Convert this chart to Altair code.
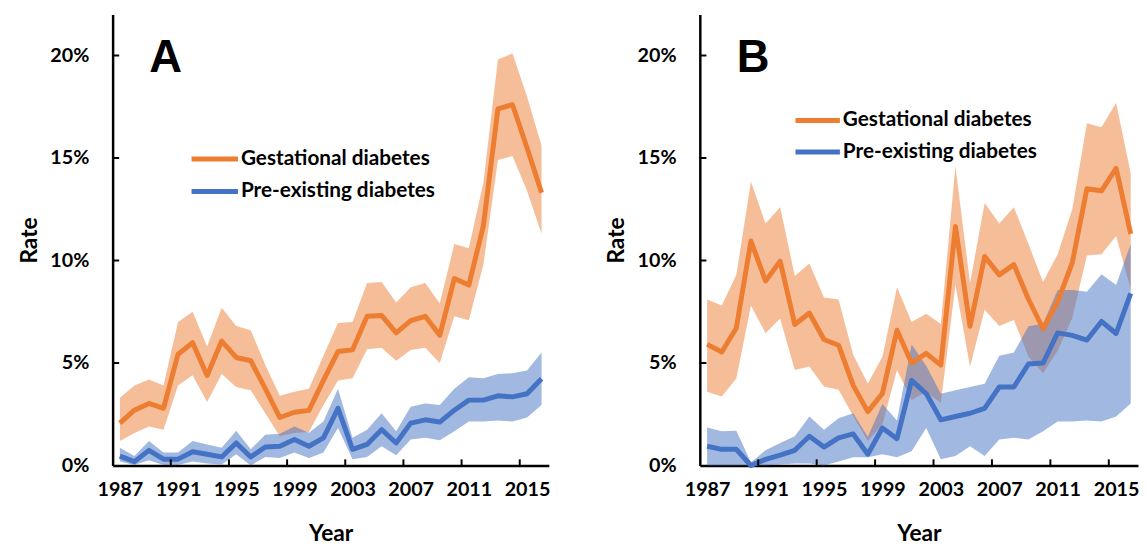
import altair as alt
import pandas as pd

years = list(range(1987, 2017))
series_names = ["Gestational diabetes", "Pre-existing diabetes"]
colors = ["#ED7D31", "#4472C4"]

# Panel A
A_gdm = [2.07, 2.7, 3.03, 2.79, 5.43, 5.99, 4.39, 6.07, 5.27, 5.11, 3.75, 2.34, 2.6, 2.69, 4.15,
         5.56, 5.64, 7.28, 7.32, 6.47, 7.07, 7.28, 6.35, 9.12, 8.8, 11.7, 17.4, 17.6, 15.5, 13.3]
A_gdm_hi = [3.3, 3.9, 4.2, 3.9, 7.0, 7.5, 5.8, 7.7, 6.8, 6.6, 4.9, 3.4, 3.6, 3.75, 5.35,
            6.95, 7.0, 8.9, 8.95, 7.95, 8.7, 8.9, 7.9, 10.8, 10.6, 13.8, 19.8, 20.1, 18.0, 15.6]
A_gdm_lo = [1.19, 1.59, 1.9, 1.75, 3.9, 4.4, 3.1, 4.47, 3.83, 3.67, 2.55, 1.43, 1.59, 1.63, 2.95,
            4.15, 4.26, 5.67, 5.75, 5.11, 5.64, 5.75, 5.0, 7.28, 7.08, 9.8, 14.9, 15.1, 13.4, 11.3]
A_pre = [0.46, 0.19, 0.74, 0.31, 0.31, 0.67, 0.55, 0.42, 1.1, 0.42, 0.9, 0.94, 1.27, 0.94, 1.35,
         2.79, 0.79, 1.03, 1.75, 1.1, 2.07, 2.23, 2.12, 2.7, 3.19, 3.19, 3.4, 3.35, 3.5, 4.23]
A_pre_hi = [0.87, 0.46, 1.19, 0.63, 0.63, 1.19, 1.03, 0.87, 1.7, 0.79, 1.5, 1.55, 1.9, 1.6, 2.15,
            3.75, 1.35, 1.75, 2.55, 1.67, 2.87, 3.03, 2.95, 3.75, 4.31, 4.26, 4.47, 4.5, 4.63, 5.51]
A_pre_lo = [0.19, 0.03, 0.26, 0.03, 0.03, 0.2, 0.1, 0.05, 0.55, 0.0, 0.42, 0.37, 0.63, 0.37, 0.63,
            1.83, 0.31, 0.42, 0.94, 0.5, 1.27, 1.35, 1.23, 1.67, 2.15, 2.15, 2.2, 2.15, 2.34, 2.95]

# Panel B
B_gdm = [5.91, 5.54, 6.71, 10.95, 9.0, 9.97, 6.88, 7.44, 6.15, 5.87, 3.91, 2.63, 3.51, 6.6, 5.0,
         5.47, 4.9, 11.66, 6.79, 10.2, 9.3, 9.8, 8.11, 6.67, 8.0, 9.9, 13.5, 13.4, 14.5, 11.3]
B_gdm_hi = [8.1, 7.8, 9.3, 13.85, 11.8, 12.6, 9.25, 9.85, 8.2, 8.1, 5.4, 4.0, 5.3, 8.7, 7.0,
            7.4, 6.9, 14.6, 8.9, 12.8, 11.8, 12.6, 10.8, 8.95, 10.3, 12.5, 16.7, 16.5, 17.7, 14.25]
B_gdm_lo = [3.6, 3.37, 4.25, 7.8, 6.45, 7.17, 4.66, 4.83, 3.86, 3.7, 2.41, 1.2, 2.0, 4.66, 3.2,
            3.6, 3.05, 8.8, 4.83, 7.6, 6.8, 7.1, 5.3, 4.5, 5.6, 7.2, 10.25, 10.3, 11.2, 8.6]
B_pre = [0.94, 0.79, 0.79, 0.0, 0.3, 0.51, 0.74, 1.43, 0.9, 1.35, 1.54, 0.55, 1.83, 1.31, 4.15,
         3.51, 2.23, 2.39, 2.55, 2.79, 3.83, 3.83, 4.95, 5.0, 6.47, 6.35, 6.12, 7.03, 6.44, 8.4]
B_pre_hi = [1.86, 1.67, 1.7, 0.15, 0.75, 1.1, 1.43, 2.39, 1.75, 2.31, 2.55, 1.4, 3.0, 2.2, 5.9,
            4.87, 3.5, 3.67, 3.83, 3.99, 5.35, 5.51, 6.79, 6.92, 8.56, 8.56, 8.48, 9.33, 8.8, 10.8]
B_pre_lo = [0.0, 0.0, 0.0, 0.0, 0.0, 0.05, 0.1, 0.1, 0.0, 0.2, 0.4, 0.4, 0.55, 0.4, 0.7,
            1.83, 0.3, 0.46, 0.94, 0.46, 1.27, 1.35, 1.27, 1.67, 2.15, 2.15, 2.2, 2.15, 2.39, 3.03]

x_label_anchors = [1986.5, 1990.5, 1994.5, 1998.5, 2002.5, 2006.5, 2010.5, 2014.5]
x_tick_pos = [1990.5, 1994.5, 1998.5, 2002.5, 2006.5, 2010.5, 2014.5]
y_ticks = [0, 5, 10, 15, 20]

FONT = "Lato"


def make_df(gdm, gdm_lo, gdm_hi, pre, pre_lo, pre_hi):
    rows = []
    for i, y in enumerate(years):
        rows.append({"year": y, "series": series_names[0], "order": 0,
                     "value": gdm[i], "lo": gdm_lo[i], "hi": gdm_hi[i]})
    for i, y in enumerate(years):
        rows.append({"year": y, "series": series_names[1], "order": 1,
                     "value": pre[i], "lo": pre_lo[i], "hi": pre_hi[i]})
    return pd.DataFrame(rows)


def panel(df, letter, width, leg_x0, leg_x1, leg_y0, leg_dy):
    xscale = alt.Scale(domain=[1986.5, 2016.5], nice=False, zero=False)
    yscale = alt.Scale(domain=[0, 22], nice=False, zero=True)
    color_scale = alt.Scale(domain=series_names, range=colors)
    x_axis = alt.Axis(values=x_label_anchors, labelExpr="datum.value + 0.5",
                      labelOffset=width / 60.0, labelFlush=False, ticks=False, grid=False,
                      domainColor="black", domainWidth=2.5, labelFont=FONT, labelFontSize=20,
                      labelFontWeight="bold", labelColor="black", labelPadding=14,
                      title="Year", titleFont=FONT, titleFontSize=23, titleFontWeight="bold",
                      titleColor="black", titlePadding=24, labelOverlap=False)
    y_axis = alt.Axis(values=y_ticks, labelExpr="datum.value + '%'", ticks=False, grid=False,
                      domainColor="black", domainWidth=2.5, labelFont=FONT, labelFontSize=20,
                      labelFontWeight="bold", labelColor="black", labelPadding=24,
                      title="Rate", titleFont=FONT, titleFontSize=23, titleFontWeight="bold",
                      titleColor="black", titlePadding=9)
    base = alt.Chart(df)
    band = base.mark_area(opacity=0.5).encode(
        x=alt.X("year:Q", scale=xscale, axis=x_axis),
        y=alt.Y("lo:Q", scale=yscale, axis=y_axis),
        y2="hi:Q",
        fill=alt.Fill("series:N", scale=color_scale, legend=None),
        order="order:Q",
    )
    line = base.mark_line(strokeWidth=5, strokeJoin="round").encode(
        x="year:Q",
        y="value:Q",
        color=alt.Color("series:N", scale=color_scale, legend=None),
    )
    xt = pd.DataFrame({"x": x_tick_pos})
    xticks = alt.Chart(xt).mark_rule(color="black", strokeWidth=2).encode(
        x="x:Q", y=alt.datum(0), y2=alt.datum(0.3))
    yt = pd.DataFrame({"y": y_ticks[1:]})
    yticks = alt.Chart(yt).mark_rule(color="black", strokeWidth=2).encode(
        y="y:Q", x=alt.datum(1986.5), x2=alt.datum(1986.95))
    lt = pd.DataFrame({"t": [letter]})
    letter_mark = alt.Chart(lt).mark_text(font="Liberation Sans", fontSize=46, fontWeight="bold",
                                          align="center", baseline="alphabetic",
                                          color="black").encode(
        x=alt.datum(1990.15), y=alt.datum(19.2), text="t:N")
    # manual legend (inside the plot)
    leg = pd.DataFrame({"series": series_names,
                        "ly": [leg_y0, leg_y0 - leg_dy]})
    leg_lines = alt.Chart(leg).mark_rule(strokeWidth=5).encode(
        x=alt.datum(leg_x0), x2=alt.datum(leg_x1), y="ly:Q",
        color=alt.Color("series:N", scale=color_scale, legend=None))
    leg_text = alt.Chart(leg).mark_text(font=FONT, fontSize=21, fontWeight="bold", align="left",
                                        baseline="middle", dx=3, color="black").encode(
        x=alt.datum(leg_x1), y="ly:Q", text="series:N")
    return alt.layer(band, line, xticks, yticks, letter_mark, leg_lines, leg_text).properties(
        width=width, height=457)


dfA = make_df(A_gdm, A_gdm_lo, A_gdm_hi, A_pre, A_pre_lo, A_pre_hi)
dfB = make_df(B_gdm, B_gdm_lo, B_gdm_hi, B_pre, B_pre_lo, B_pre_hi)

pA = panel(dfA, "A", 442, 1991.93, 1995.12, 14.95, 1.58)
pB = panel(dfB, "B", 444, 1993.05, 1996.09, 16.83, 1.54)

chart = alt.hconcat(pA, pB, spacing=55).resolve_scale(
    color="independent", fill="independent").properties(
    padding={"left": 10, "top": 3, "right": 0, "bottom": 0},
    background="white",
).configure_view(stroke=None)

chart.save("out.html", embed_options={"renderer": "svg", "actions": False})
